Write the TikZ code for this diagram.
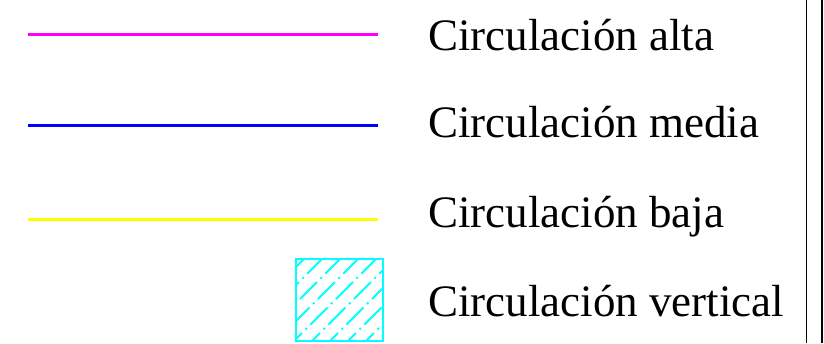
\documentclass[tikz,border=0pt]{standalone}
\usepackage{fontspec}
\setmainfont{Liberation Serif}
\definecolor{cmag}{RGB}{255,0,255}
\definecolor{cblue}{RGB}{0,0,255}
\definecolor{cyel}{RGB}{255,255,0}
\definecolor{ccyan}{RGB}{0,255,255}
\begin{document}
\begin{tikzpicture}[x=1pt,y=-1pt,
  legline/.style={line width=3pt},
  legtext/.style={anchor=base west,inner sep=0pt,font=\fontsize{45}{54}\selectfont},
  hatchline/.style={ccyan,line width=1.8pt,dash pattern=on 24pt off 5pt on 2pt off 5pt},
  frameline/.style={black,line width=1.8pt}]
\useasboundingbox (0,0) rectangle (824,343);
% legend lines
\coordinate (a1) at (28,34); \coordinate (a2) at (378,34);
\coordinate (b1) at (28,125); \coordinate (b2) at (378,125);
\coordinate (c1) at (28,219); \coordinate (c2) at (378,219);
\draw[legline,cmag] (a1) -- (a2);
\draw[legline,cblue] (b1) -- (b2);
\draw[legline,cyel] (c1) -- (c2);
% hatched square
\begin{scope}
\clip (296,259) rectangle (383,341);
\foreach \c in {545,563,...,740} {
  \draw[hatchline] (\c-350,350) -- (\c-250,250);
}
\end{scope}
\draw[ccyan,line width=2pt] (296,259) rectangle (383,341);
% texts
\node[legtext] (ta) at (428,50) {Circulación alta};
\node[legtext] (tm) at (428,137) {Circulación media};
\node[legtext] (tb) at (428,227) {Circulación baja};
\node[legtext] (tv) at (428,316) {Circulación vertical};
% frame lines
\coordinate (f1t) at (806.5,0); \coordinate (f1b) at (806.5,343);
\coordinate (f2t) at (821.8,0); \coordinate (f2b) at (821.8,343);
\draw[frameline] (f1t) -- (f1b);
\draw[frameline] (f2t) -- (f2b);
\end{tikzpicture}
\end{document}
